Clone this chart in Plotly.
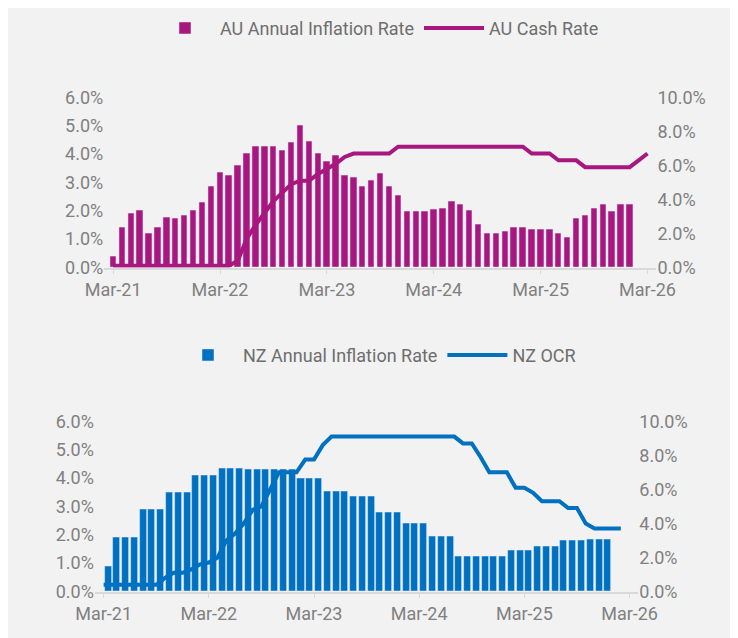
import plotly.graph_objects as go
from plotly.subplots import make_subplots

tick_labels = ["Mar-21", "Mar-22", "Mar-23", "Mar-24", "Mar-25", "Mar-26"]
tick_pos = [0, 12, 24, 36, 48, 60]

# AU monthly CPI (Mar-21 .. Jan-26)
au_cpi = [0.4, 1.43, 1.9, 2.0, 1.2, 1.43, 1.77, 1.74, 1.84, 2.0, 2.3, 2.87, 3.35, 3.25,
          3.6, 4.03, 4.27, 4.27, 4.27, 4.14, 4.4, 5.0, 4.45, 4.03, 3.73, 3.97, 3.25, 3.18,
          2.87, 3.07, 3.31, 2.87, 2.53, 1.98, 1.98, 1.98, 2.05, 2.08, 2.32, 2.22, 2.0, 1.53,
          1.19, 1.19, 1.29, 1.43, 1.43, 1.36, 1.36, 1.36, 1.19, 1.05, 1.74, 1.84, 2.08, 2.22,
          1.98, 2.22, 2.22]
# AU cash rate (Mar-21 .. Mar-26)
au_cash = [0.1] * 14 + [0.4, 1.7, 2.5, 3.2, 3.9, 4.4, 4.9, 5.1, 5.1, 5.5, 5.8, 6.1, 6.5, 6.7,
           6.7, 6.7, 6.7, 6.7] + [7.1] * 15 + [6.7] * 3 + [6.3] * 3 + [5.9] * 6 + [6.3, 6.7]

# NZ quarterly CPI, repeated per month (Mar-21, then Q2-21 .. Q4-25)
nz_q = [1.9, 2.9, 3.5, 4.1, 4.35, 4.3, 4.3, 4.0, 3.55, 3.35, 2.8, 2.4, 1.95, 1.25, 1.25,
        1.45, 1.6, 1.8, 1.85]
nz_cpi = [0.88] + [v for v in nz_q for _ in range(3)]
# NZ OCR (Mar-21 .. Feb-26)
nz_ocr = [0.4] * 7 + [0.8, 1.1, 1.1, 1.3, 1.6, 1.7, 2.0, 3.0, 3.4, 4.0, 4.8, 5.0, 6.0, 7.0,
          7.0, 7.0, 7.75, 7.75, 8.6] + [9.1] * 15 + [8.7, 8.7, 7.9, 7.0, 7.0, 7.0, 6.1, 6.1,
          5.8, 5.3, 5.3, 5.3, 4.9, 4.9, 4.0, 3.7, 3.7, 3.7, 3.7]

MAG = "#A8177F"
BLUE = "#0070C0"

fig = make_subplots(rows=2, cols=1, specs=[[{"secondary_y": True}], [{"secondary_y": True}]])
fig.add_trace(go.Bar(x=list(range(len(au_cpi))), y=au_cpi, name="AU Annual Inflation Rate",
                     marker_color=MAG, width=0.72, legend="legend"), row=1, col=1)
fig.add_trace(go.Scatter(x=list(range(len(au_cash))), y=au_cash, name="AU Cash Rate", mode="lines",
                         line=dict(color=MAG, width=4), legend="legend"), row=1, col=1, secondary_y=True)
fig.add_trace(go.Bar(x=[i + 0.5 for i in range(len(nz_cpi))], y=nz_cpi, name="NZ Annual Inflation Rate",
                     marker_color=BLUE, width=0.8, legend="legend2"), row=2, col=1)
fig.add_trace(go.Scatter(x=list(range(len(nz_ocr))), y=nz_ocr, name="NZ OCR", mode="lines",
                         line=dict(color=BLUE, width=4), legend="legend2"), row=2, col=1, secondary_y=True)

font = dict(family="Roboto", size=18, color="#808080")
xcommon = dict(tickvals=tick_pos, ticktext=tick_labels, range=[-1, 61], showgrid=False,
               showline=True, linecolor="#d9d9d9", linewidth=1.5, ticks="outside",
               ticklen=5, tickcolor="#d9d9d9", tickfont=font, zeroline=False)
lcommon = dict(tickformat=".1f", ticksuffix="%", showgrid=False, zeroline=False, tickfont=font)
lfont = dict(family="Roboto", size=18, color="#6e6e6e")

fig.update_layout(
    width=738, height=638, paper_bgcolor="#f2f2f2", plot_bgcolor="#f2f2f2",
    margin=dict(l=0, r=0, t=0, b=0), bargap=0, showlegend=True,
    xaxis=dict(domain=[0.1092, 0.9003], **xcommon),
    xaxis2=dict(domain=[0.0958, 0.8744], **xcommon),
    yaxis=dict(domain=[0.5972, 0.8730], range=[0, 6], dtick=1, **lcommon),
    yaxis2=dict(range=[0, 10], dtick=2, **lcommon),
    yaxis3=dict(domain=[0.0721, 0.3480], range=[0, 6], dtick=1, **lcommon),
    yaxis4=dict(range=[0, 10], dtick=2, **lcommon),
    legend=dict(orientation="h", x=0.5, xanchor="center", y=0.966, yanchor="middle",
                font=lfont, bgcolor="rgba(0,0,0,0)", itemwidth=60, entrywidthmode="pixels"),
    legend2=dict(orientation="h", x=0.5, xanchor="center", y=0.445, yanchor="middle",
                 font=lfont, bgcolor="rgba(0,0,0,0)", itemwidth=60),
)
fig.update_layout(legend_y=0.985, legend2_y=0.455)
fig.write_html("out.html")
